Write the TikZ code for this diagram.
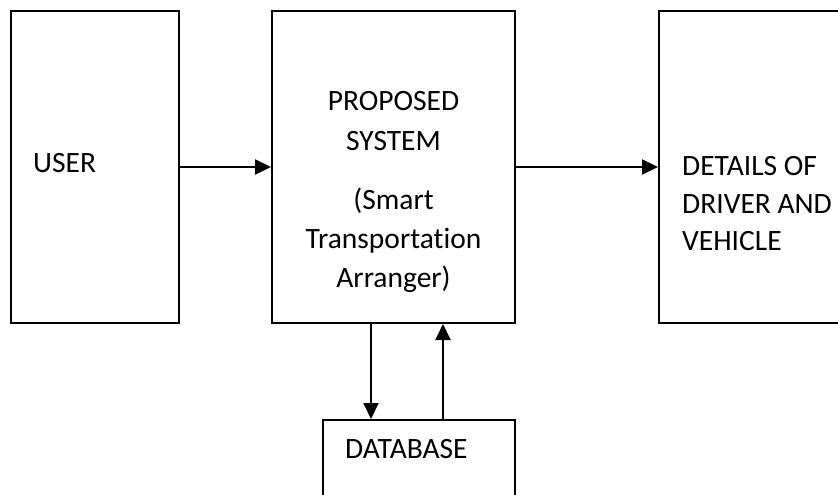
\documentclass[tikz,border=0pt]{standalone}
\usepackage{fontspec}
\setmainfont[Ligatures=NoCommon]{Carlito}
\usetikzlibrary{arrows.meta}
\begin{document}
\begin{tikzpicture}[x=1pt,y=-1pt,
  box/.style={draw=black,line width=2pt,inner sep=0pt},
  lbl/.style={inner sep=0pt,font=\fontsize{29.5}{35}\selectfont},
  conn/.style={line width=2pt,-{Triangle[length=16pt,width=15pt]}}]
\useasboundingbox (0,0) rectangle (838,495);
\node[box,minimum width=168pt,minimum height=312pt] (user) at (95,167) {};
\node[box,minimum width=243pt,minimum height=312pt] (ps) at (393.5,167) {};
\node[box,minimum width=190pt,minimum height=312pt] (det) at (754,167) {};
\node[box,minimum width=192pt,minimum height=100pt] (db) at (419,470) {};
% texts
\node[lbl,anchor=base west] (tuser) at (33,172) {USER};
\node[lbl,anchor=base] (tps1) at (393.5,110.7) {PROPOSED};
\node[lbl,anchor=base] (tps2) at (393.5,150) {SYSTEM};
\node[lbl,anchor=base] (tps3) at (393.5,209) {(Smart};
\node[lbl,anchor=base] (tps4) at (393.5,248) {Transportation};
\node[lbl,anchor=base] (tps5) at (393.5,287) {Arranger)};
\node[lbl,anchor=base west] (tdet1) at (682,175) {DETAILS OF};
\node[lbl,anchor=base west] (tdet2) at (682,213) {DRIVER AND};
\node[lbl,anchor=base west] (tdet3) at (682,250) {VEHICLE};
\node[lbl,anchor=base west] (tdb) at (345,458) {DATABASE};
% connectors
\coordinate (dn) at (371,0);
\coordinate (up) at (443,0);
\draw[conn] (user.east) -- (ps.west);
\draw[conn] (ps.east) -- (det.west);
\draw[conn] (ps.south -| dn) -- (db.north -| dn);
\draw[conn] (db.north -| up) -- (ps.south -| up);
\end{tikzpicture}
\end{document}
